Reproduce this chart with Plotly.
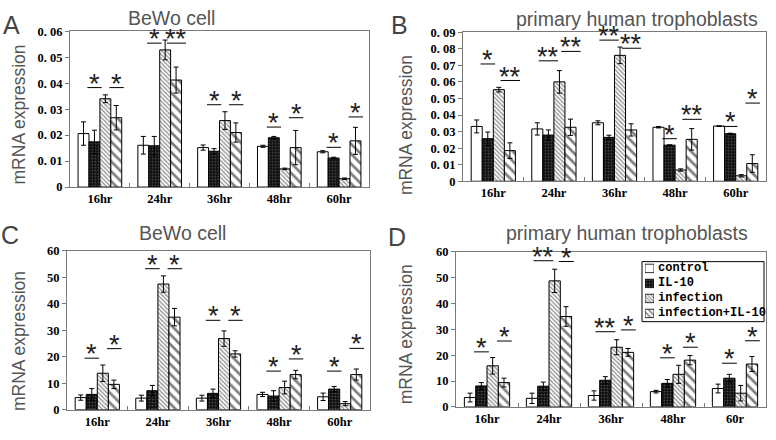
import plotly.graph_objects as go

# ---------------- data ----------------
categories = ["16hr", "24hr", "36hr", "48hr", "60hr"]
categories_d = ["16hr", "24hr", "36hr", "48hr", "60r"]
series_names = ["control", "IL-10", "infection", "infection+IL-10"]

# Panel A - BeWo cell
a_control = [0.0206, 0.0161, 0.0152, 0.0157, 0.0136]
a_il10 = [0.0174, 0.0159, 0.0138, 0.0190, 0.0112]
a_infection = [0.0340, 0.0528, 0.0256, 0.0070, 0.0032]
a_inf_il10 = [0.0267, 0.0412, 0.0210, 0.0152, 0.0178]
a_control_sd = [0.0045, 0.0034, 0.0010, 0.0004, 0.0004]
a_il10_sd = [0.0045, 0.0036, 0.0010, 0.0005, 0.0003]
a_infection_sd = [0.0015, 0.0038, 0.0034, 0.0003, 0.0003]
a_inf_il10_sd = [0.0047, 0.0050, 0.0037, 0.0066, 0.0052]
a_ticks = [0, 0.01, 0.02, 0.03, 0.04, 0.05, 0.06]
a_ticktext = ["0", "0. 01", "0. 02", "0. 03", "0. 04", "0. 05", "0. 06"]
# significance: (category index, pair 0=left/1=right, bar level, label)
a_sig = [(0, 0, 0.0383, "*"), (0, 1, 0.0383, "*"),
         (1, 0, 0.0554, "*"), (1, 1, 0.0554, "**"),
         (2, 0, 0.0317, "*"), (2, 1, 0.0317, "*"),
         (3, 0, 0.0231, "*"), (3, 1, 0.0267, "*"),
         (4, 0, 0.0153, "*"), (4, 1, 0.0270, "*")]

# Panel B - primary human trophoblasts
b_control = [0.0331, 0.0316, 0.0353, 0.0326, 0.0333]
b_il10 = [0.0257, 0.0279, 0.0265, 0.0218, 0.0287]
b_infection = [0.0553, 0.0600, 0.0760, 0.0068, 0.0033]
b_inf_il10 = [0.0185, 0.0326, 0.0310, 0.0253, 0.0107]
b_control_sd = [0.0039, 0.0037, 0.0012, 0.0004, 0.0002]
b_il10_sd = [0.0040, 0.0031, 0.0013, 0.0002, 0.0003]
b_infection_sd = [0.0014, 0.0068, 0.0050, 0.0007, 0.0007]
b_inf_il10_sd = [0.0047, 0.0049, 0.0037, 0.0065, 0.0053]
b_ticks = [0, 0.01, 0.02, 0.03, 0.04, 0.05, 0.06, 0.07, 0.08, 0.09]
b_ticktext = ["0", "0. 01", "0. 02", "0. 03", "0. 04", "0. 05", "0. 06",
              "0. 07", "0. 08", "0. 09"]
b_sig = [(0, 0, 0.0708, "*"), (0, 1, 0.0608, "**"),
         (1, 0, 0.0727, "**"), (1, 1, 0.0784, "**"),
         (2, 0, 0.0852, "**"), (2, 1, 0.0803, "**"),
         (3, 0, 0.0257, "*"), (3, 1, 0.0374, "**"),
         (4, 0, 0.0331, "*"), (4, 1, 0.0472, "*")]

# Panel C - BeWo cell
c_control = [4.6, 4.4, 4.4, 5.8, 4.9]
c_il10 = [5.8, 7.2, 6.2, 5.2, 7.8]
c_infection = [13.8, 47.5, 26.9, 8.4, 2.3]
c_inf_il10 = [9.6, 35.0, 21.1, 13.3, 13.3]
c_control_sd = [1.0, 1.1, 1.1, 0.8, 1.4]
c_il10_sd = [2.2, 2.0, 1.6, 2.0, 1.0]
c_infection_sd = [3.1, 3.1, 2.9, 2.4, 0.8]
c_inf_il10_sd = [1.6, 3.3, 1.2, 1.6, 2.1]
c_ticks = [0, 10, 20, 30, 40, 50, 60]
c_ticktext = ["0", "10", "20", "30", "40", "50", "60"]
c_sig = [(0, 0, 19.5, "*"), (0, 1, 23.1, "*"),
         (1, 0, 53.3, "*"), (1, 1, 53.3, "*"),
         (2, 0, 33.8, "*"), (2, 1, 33.8, "*"),
         (3, 0, 14.6, "*"), (3, 1, 19.2, "*"),
         (4, 0, 14.6, "*"), (4, 1, 23.2, "*")]

# Panel D - primary human trophoblasts
d_control = [3.6, 3.3, 4.4, 5.9, 7.1]
d_il10 = [8.1, 8.0, 10.3, 9.1, 11.1]
d_infection = [15.9, 48.8, 23.1, 12.6, 5.3]
d_inf_il10 = [9.4, 35.0, 21.1, 18.1, 16.6]
d_control_sd = [1.7, 2.0, 1.8, 0.5, 1.7]
d_il10_sd = [1.3, 1.6, 1.4, 1.5, 1.5]
d_infection_sd = [3.2, 4.5, 2.9, 3.5, 3.0]
d_inf_il10_sd = [1.7, 3.8, 1.5, 1.8, 2.9]
d_ticks = [0, 10, 20, 30, 40, 50, 60]
d_ticktext = ["0", "10", "20", "30", "40", "50", "60"]
d_sig = [(0, 0, 21.3, "*"), (0, 1, 25.5, "*"),
         (1, 0, 56.6, "**"), (1, 1, 56.3, "*"),
         (2, 0, 29.1, "**"), (2, 1, 29.8, "*"),
         (3, 0, 19.0, "*"), (3, 1, 23.1, "*"),
         (4, 0, 16.9, "*"), (4, 1, 25.6, "*")]

# ---------------- styling ----------------
W, H = 776, 440
def px_x(p):
    return p / W
def px_y(p):
    return 1 - p / H

TICK_FONT = dict(family="Liberation Serif", size=12.5, color="black", weight="bold")
SANS = "Liberation Sans"
FRAME = "#7a7a7a"

styles = [
    dict(color="white", pattern=dict(shape="")),
    dict(color="#111111", pattern=dict(shape=".", fgcolor="#8a8a8a", bgcolor="#111111",
                                       size=3, solidity=0.25)),
    dict(color="white", pattern=dict(shape="\\", fgcolor="#2a2a2a", bgcolor="white",
                                     size=3, solidity=0.45)),
    dict(color="white", pattern=dict(shape="\\", fgcolor="black", bgcolor="white",
                                     size=7, solidity=0.38)),
]

panels = [
    dict(letter="A", title="BeWo cell", cats=categories,
         vals=[a_control, a_il10, a_infection, a_inf_il10],
         sds=[a_control_sd, a_il10_sd, a_infection_sd, a_inf_il10_sd],
         ticks=a_ticks, ticktext=a_ticktext, sig=a_sig,
         box=(70, 369, 25, 186), title_xy=(171, 11), letter_xy=(11, 19), ytitle_xy=(19, 111)),
    dict(letter="B", title="primary human trophoblasts", cats=categories,
         vals=[b_control, b_il10, b_infection, b_inf_il10],
         sds=[b_control_sd, b_il10_sd, b_infection_sd, b_inf_il10_sd],
         ticks=b_ticks, ticktext=b_ticktext, sig=b_sig,
         box=(463, 766, 26, 180), title_xy=(637, 12), letter_xy=(400, 19), ytitle_xy=(406, 122)),
    dict(letter="C", title="BeWo cell", cats=categories,
         vals=[c_control, c_il10, c_infection, c_inf_il10],
         sds=[c_control_sd, c_il10_sd, c_infection_sd, c_inf_il10_sd],
         ticks=c_ticks, ticktext=c_ticktext, sig=c_sig,
         box=(67, 370, 252, 416), title_xy=(182, 233), letter_xy=(10, 236), ytitle_xy=(19, 345)),
    dict(letter="D", title="primary human trophoblasts", cats=categories_d,
         vals=[d_control, d_il10, d_infection, d_inf_il10],
         sds=[d_control_sd, d_il10_sd, d_infection_sd, d_inf_il10_sd],
         ticks=d_ticks, ticktext=d_ticktext, sig=d_sig,
         box=(456, 766, 253, 413), title_xy=(627, 233), letter_xy=(397, 238), ytitle_xy=(406, 338)),
]

fig = go.Figure()
annotations = []
shapes = []
layout_axes = {}

GROUP = 0.73
# significance segment centres relative to category centre (category units)
SEG_CENTER = {0: -0.09, 1: 0.28}

for k, p in enumerate(panels):
    n = "" if k == 0 else str(k + 1)
    xa, ya = "x" + n, "y" + n
    x0, x1, y0, y1 = p["box"]
    top = p["ticks"][-1]
    px_per_unit = (y1 - y0) / top
    for i, name in enumerate(series_names):
        st = styles[i]
        fig.add_trace(go.Bar(
            x=p["cats"], y=p["vals"][i], name=name, xaxis=xa, yaxis=ya,
            showlegend=False,
            marker=dict(color=st["color"], pattern=st["pattern"],
                        line=dict(color="black", width=1)),
            error_y=dict(type="data", array=p["sds"][i], color="black",
                         thickness=1, width=2.5),
        ))
    layout_axes["xaxis" + n] = dict(
        domain=[px_x(x0), px_x(x1)], anchor=ya, type="category",
        range=[-0.5, 4.5], showline=True, linecolor=FRAME, linewidth=1.2, mirror=True,
        ticks="inside", tickson="boundaries", ticklen=4, tickcolor=FRAME,
        tickfont=TICK_FONT, showgrid=False, zeroline=False, fixedrange=True,
    )
    layout_axes["yaxis" + n] = dict(
        domain=[px_y(y1), px_y(y0)], anchor=xa,
        range=[p["ticks"][0], top], tickvals=p["ticks"], ticktext=p["ticktext"],
        showline=True, linecolor=FRAME, linewidth=1.2, mirror=True,
        ticks="outside", ticklen=4, tickcolor=FRAME, tickfont=TICK_FONT,
        showgrid=False, zeroline=False, fixedrange=True,
    )
    # titles, letters, y titles
    annotations.append(dict(text=p["title"], x=px_x(p["title_xy"][0]), y=px_y(p["title_xy"][1]),
                            xref="paper", yref="paper", showarrow=False,
                            xanchor="center", yanchor="middle",
                            font=dict(family=SANS, size=19.5, color="#555555")))
    annotations.append(dict(text=p["letter"], x=px_x(p["letter_xy"][0]), y=px_y(p["letter_xy"][1]),
                            xref="paper", yref="paper", showarrow=False,
                            xanchor="center", yanchor="middle",
                            font=dict(family=SANS, size=25, color="#444444")))
    annotations.append(dict(text="mRNA expression", x=px_x(p["ytitle_xy"][0]),
                            y=px_y(p["ytitle_xy"][1]), textangle=-90,
                            xref="paper", yref="paper", showarrow=False,
                            xanchor="center", yanchor="middle",
                            font=dict(family=SANS, size=17.5, color="#555555")))
    # significance markers
    for (ci, side, lvl, lab) in p["sig"]:
        mid = ci + SEG_CENTER[side]
        hw = 0.12 if len(lab) == 1 else 0.16
        # break the frame where an asterisk sits on the top border
        if (top - lvl) * px_per_unit < 14:
            wgap = 11 * len(lab) + 4
            shapes.append(dict(type="rect", xref=xa, yref=ya, xsizemode="pixel",
                               ysizemode="pixel", xanchor=mid, yanchor=top,
                               x0=-wgap / 2, x1=wgap / 2, y0=-2, y1=2,
                               line=dict(width=0), fillcolor="white", layer="above"))
        shapes.append(dict(type="line", xref=xa, yref=ya, x0=mid - hw, x1=mid + hw,
                           y0=lvl, y1=lvl, line=dict(color="black", width=1)))
        annotations.append(dict(text=lab, x=mid, y=lvl, xref=xa, yref=ya,
                                showarrow=False, xanchor="center", yanchor="bottom",
                                yshift=-13,
                                font=dict(family=SANS, size=27, color="#222222")))

# ---------------- custom legend (panel D) ----------------
LEG_BOX = (642, 764, 263, 325)
row_y = [270, 285.5, 301, 316.5]
layout_axes["xaxis5"] = dict(domain=[px_x(645), px_x(654)], anchor="y5", range=[0, 1],
                             visible=False, fixedrange=True)
layout_axes["yaxis5"] = dict(domain=[px_y(324.25), px_y(262.25)], anchor="x5",
                             range=[3.5, -0.5], visible=False, fixedrange=True)
for i, name in enumerate(series_names):
    st = styles[i]
    pat = dict(st["pattern"])
    if pat.get("shape") == "\\":
        pat["size"] = 4 if i == 3 else 2.5
    fig.add_trace(go.Bar(
        x=[1], y=[i], orientation="h", width=0.56, offset=-0.28, base=0,
        xaxis="x5", yaxis="y5", showlegend=False, hoverinfo="skip",
        marker=dict(color=st["color"], pattern=pat, line=dict(color="black", width=0.8)),
    ))
    annotations.append(dict(text=name, x=px_x(656), y=px_y(row_y[i]), xref="paper", yref="paper",
                            showarrow=False, xanchor="left", yanchor="middle",
                            font=dict(family="Liberation Mono", size=12, color="black",
                                      weight="bold")))
shapes.append(dict(type="rect", xref="paper", yref="paper",
                   x0=px_x(LEG_BOX[0]), x1=px_x(LEG_BOX[1]),
                   y0=px_y(LEG_BOX[3]), y1=px_y(LEG_BOX[2]),
                   line=dict(color="black", width=1), fillcolor="rgba(0,0,0,0)"))

fig.update_layout(
    width=W, height=H, margin=dict(l=0, r=0, t=0, b=0),
    paper_bgcolor="white", plot_bgcolor="white",
    barmode="group", bargap=1 - GROUP, bargroupgap=0,
    showlegend=False, annotations=annotations, shapes=shapes,
    **layout_axes,
)

fig.write_html("out.html", config={"displayModeBar": False},
               post_script="document.body.style.margin='0';")
